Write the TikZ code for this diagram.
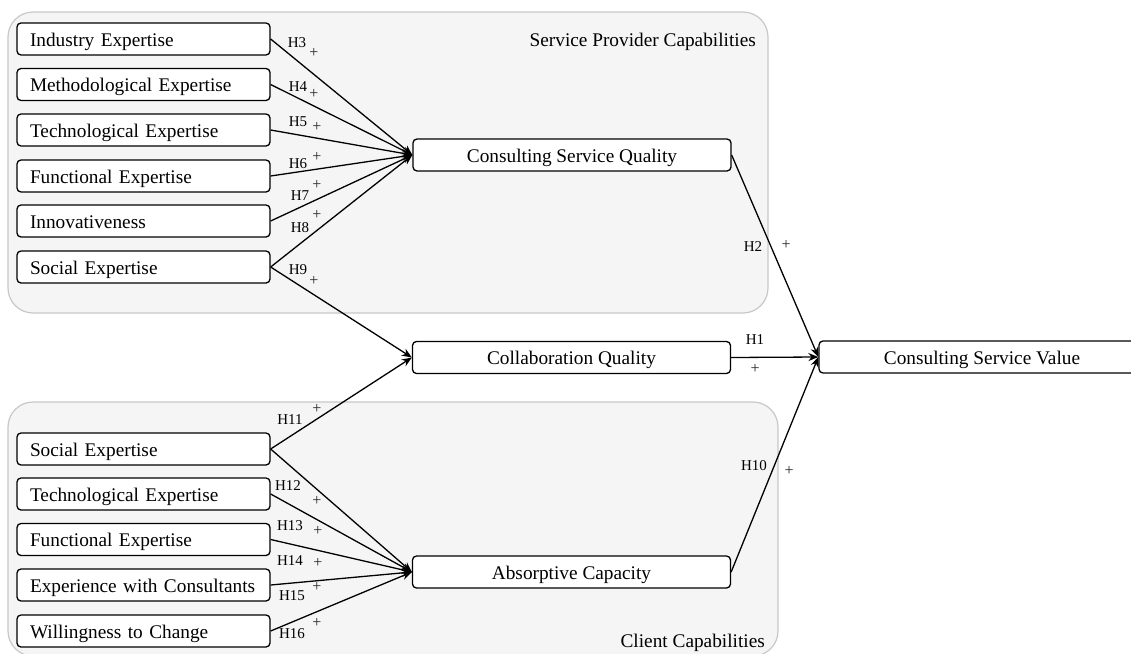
\documentclass[tikz,border=0pt]{standalone}
\usepackage{fontspec}
\setmainfont{Liberation Serif}
\usetikzlibrary{arrows.meta}
\definecolor{groupfill}{HTML}{F5F5F5}
\definecolor{groupdraw}{HTML}{C8C8C8}
\begin{document}
\begin{tikzpicture}[x=1pt,y=-1pt,
  groupbox/.style={draw=groupdraw,fill=groupfill,line width=1.2pt,rounded corners=25pt},
  leftbox/.style={draw=black,fill=white,line width=1.3pt,rounded corners=4pt,
    text width=227pt,inner xsep=13pt,inner ysep=0pt,align=left,minimum height=32pt,
    text height=18pt,text depth=4pt,
    font=\fontsize{19.3}{22}\selectfont},
  midbox/.style={draw=black,fill=white,line width=1.3pt,rounded corners=4pt,
    minimum width=318pt,minimum height=32pt,inner sep=0pt,
    text height=18pt,text depth=4pt,
    font=\fontsize{19.3}{22}\selectfont},
  conn/.style={line width=1.3pt,-{Stealth[length=10pt,width=8pt]}},
  hlab/.style={font=\fontsize{15}{17}\selectfont,inner sep=0pt},
  plab/.style={font=\fontsize{16}{18}\selectfont,inner sep=0pt,text=black!85},
  title/.style={font=\fontsize{19.3}{22}\selectfont,inner sep=0pt}
]
\useasboundingbox (0,0) rectangle (1131,653);
\fill[white] (0,0) rectangle (1131,653);
% group containers
\draw[groupbox] (8,12) rectangle (768,313);
\draw[groupbox] (8,402) rectangle (778,656);
\node[title,anchor=east] (tsp) at (756,42) {Service Provider Capabilities};
\node[title,anchor=east] (tcc) at (765,643) {Client Capabilities};
% left boxes (service provider)
\node[leftbox] (ie) at (143.5,39) {Industry Expertise};
\node[leftbox] (me) at (143.5,84.5) {Methodological Expertise};
\node[leftbox] (te) at (143.5,130) {Technological Expertise};
\node[leftbox] (fe) at (143.5,176) {Functional Expertise};
\node[leftbox] (in) at (143.5,221) {Innovativeness};
\node[leftbox] (se) at (143.5,267) {Social Expertise};
% left boxes (client)
\node[leftbox] (cse) at (143.5,449) {Social Expertise};
\node[leftbox] (cte) at (143.5,494) {Technological Expertise};
\node[leftbox] (cfe) at (143.5,539.5) {Functional Expertise};
\node[leftbox] (cec) at (143.5,585) {Experience with Consultants};
\node[leftbox] (cwc) at (143.5,631) {Willingness to Change};
% middle boxes
\node[midbox] (csq) at (572,155) {Consulting Service Quality};
\node[midbox] (cq) at (571.5,357.5) {Collaboration Quality};
\node[midbox] (ac) at (571.5,572) {Absorptive Capacity};
\node[midbox,minimum width=326pt] (csv) at (982,357) {Consulting Service Value};
% connectors
\draw[conn] (ie.east) -- (csq.west);
\draw[conn] (me.east) -- (csq.west);
\draw[conn] (te.east) -- (csq.west);
\draw[conn] (fe.east) -- (csq.west);
\draw[conn] (in.east) -- (csq.west);
\draw[conn] (se.east) -- (csq.west);
\draw[conn] (se.east) -- (cq.west);
\draw[conn] (cse.east) -- (cq.west);
\draw[conn] (cse.east) -- (ac.west);
\draw[conn] (cte.east) -- (ac.west);
\draw[conn] (cfe.east) -- (ac.west);
\draw[conn] (cec.east) -- (ac.west);
\draw[conn] (cwc.east) -- (ac.west);
\draw[conn] (csq.east) -- (csv.west);
\draw[conn] (cq.east) -- (csv.west);
\draw[conn] (ac.east) -- (csv.west);
% labels
\node[hlab] (h3) at (297,43) {H3};   \node[plab] (p3) at (314,53) {+};
\node[hlab] (h4) at (298,87) {H4};   \node[plab] (p4) at (314,94) {+};
\node[hlab] (h5) at (298,122) {H5};  \node[plab] (p5) at (317,127) {+};
\node[hlab] (h6) at (298,164) {H6};  \node[plab] (p6) at (317,157) {+};
\node[hlab] (h7) at (300,196) {H7};  \node[plab] (p7) at (317,185) {+};
\node[hlab] (h8) at (300,228) {H8};  \node[plab] (p8) at (317,215) {+};
\node[hlab] (h9) at (298,270) {H9};  \node[plab] (p9) at (314,281) {+};
\node[hlab] (h11) at (290,420) {H11}; \node[plab] (p11) at (317,409) {+};
\node[hlab] (h12) at (288,486) {H12}; \node[plab] (p12) at (317,501) {+};
\node[hlab] (h13) at (290,526) {H13}; \node[plab] (p13) at (318,531) {+};
\node[hlab] (h14) at (290,561) {H14}; \node[plab] (p14) at (318,563) {+};
\node[hlab] (h15) at (292,596) {H15}; \node[plab] (p15) at (317,587) {+};
\node[hlab] (h16) at (292,634) {H16}; \node[plab] (p16) at (317,623) {+};
\node[hlab] (h2) at (753,247) {H2};  \node[plab] (p2) at (786,245) {+};
\node[hlab] (h1) at (755,340) {H1};  \node[plab] (p1) at (755,369) {+};
\node[hlab] (h10) at (754,466) {H10}; \node[plab] (p10) at (789,471) {+};
\end{tikzpicture}
\end{document}
